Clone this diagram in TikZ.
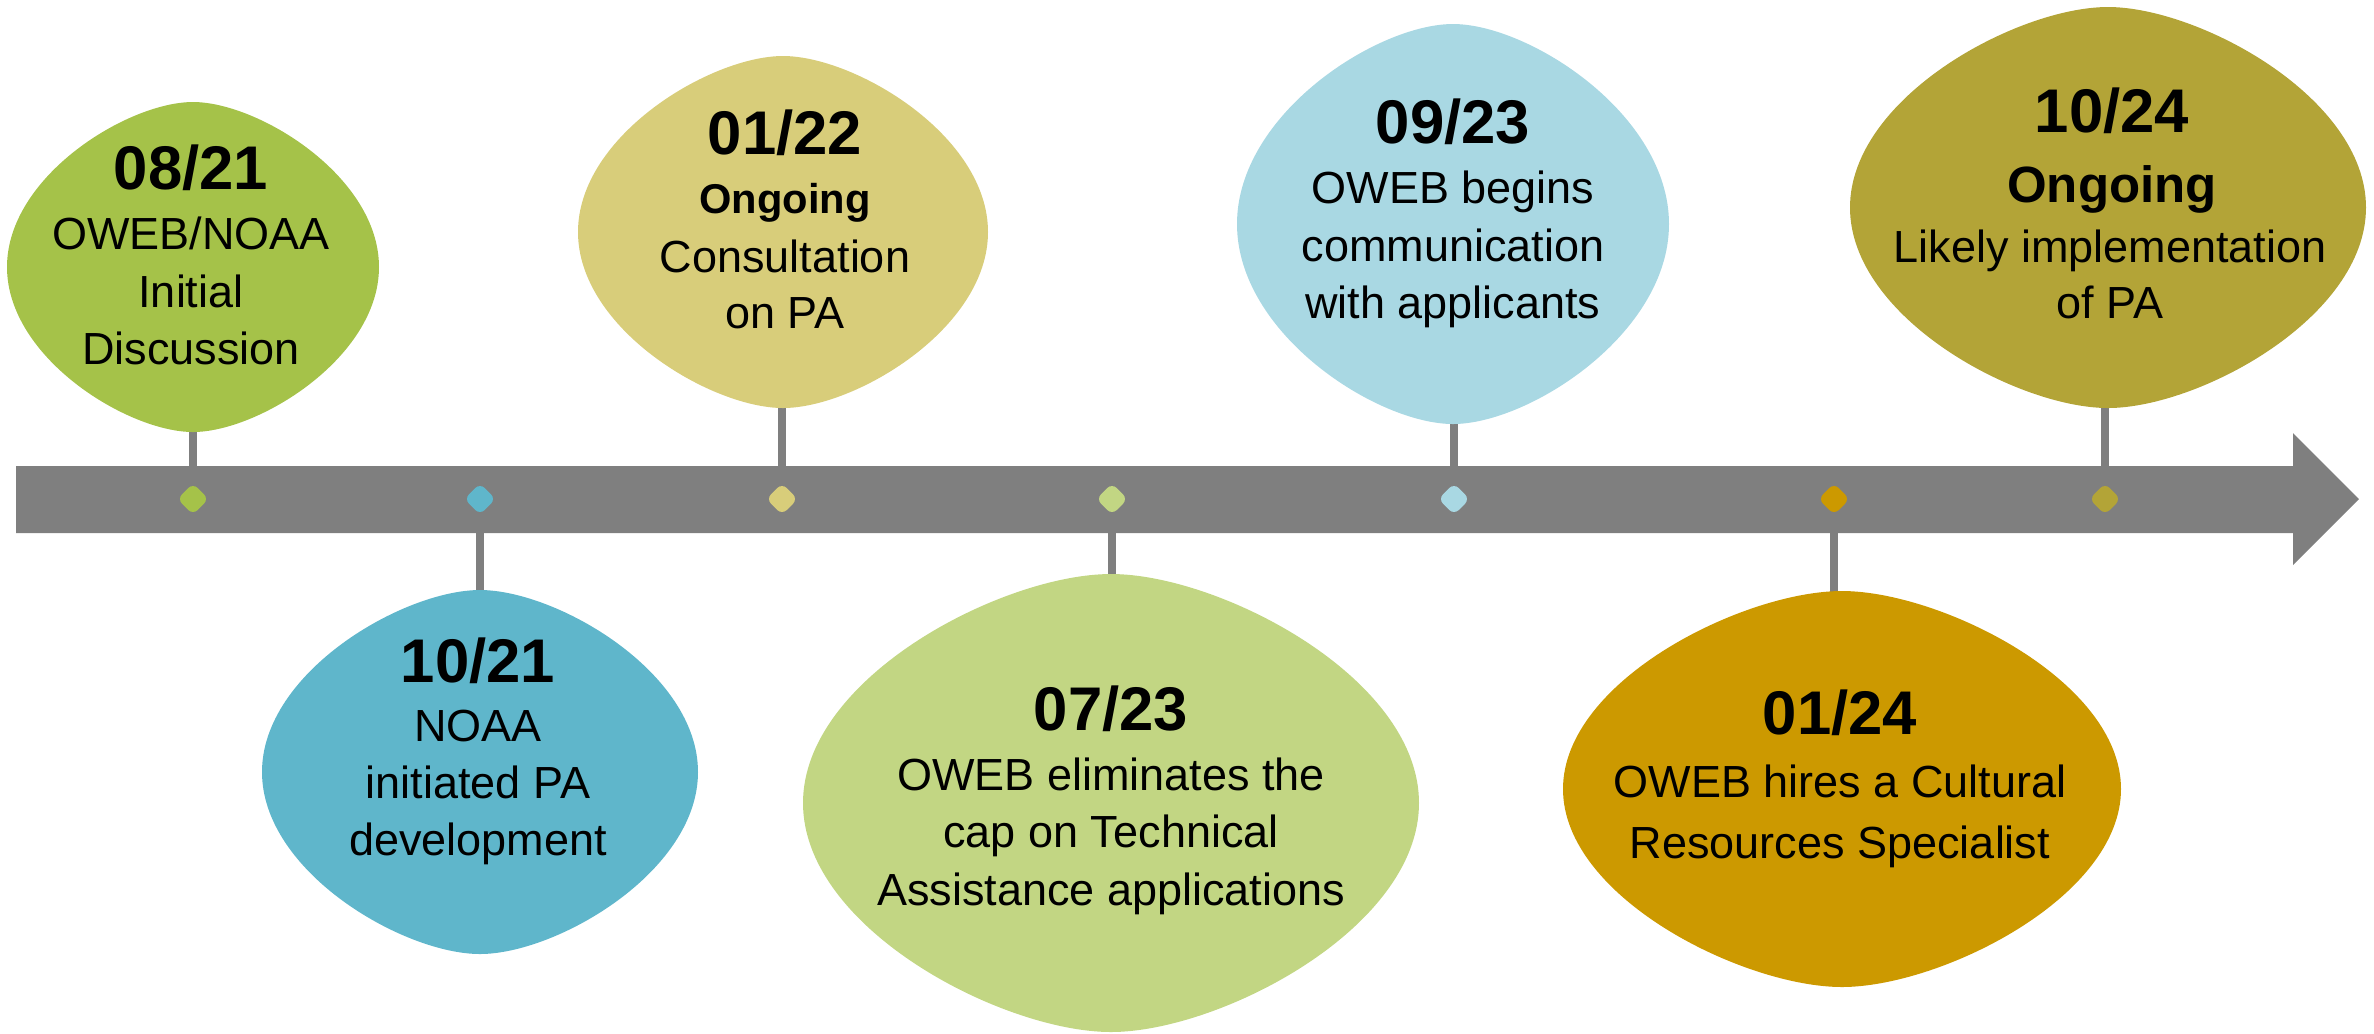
\documentclass[tikz,border=0pt]{standalone}
\usepackage{fontspec}
\usetikzlibrary{shapes.geometric}
\setmainfont{Liberation Sans}
\definecolor{cA}{HTML}{A5C249}
\definecolor{cB}{HTML}{5FB6CB}
\definecolor{cC}{HTML}{D8CD7A}
\definecolor{cD}{HTML}{C2D683}
\definecolor{cE}{HTML}{A9D8E3}
\definecolor{cF}{HTML}{CC9900}
\definecolor{cG}{HTML}{B3A437}
\definecolor{barcol}{HTML}{7F7F7F}
% blob: cx, cy, rx, ry, colour
\newcommand\evblob[5]{%
  \fill[#5] ({#1+#3},{#2})
    .. controls ({#1+#3},{#2-0.55*#4}) and ({#1+0.35*#3},{#2-#4}) .. ({#1},{#2-#4})
    .. controls ({#1-0.35*#3},{#2-#4}) and ({#1-#3},{#2-0.55*#4}) .. ({#1-#3},{#2})
    .. controls ({#1-#3},{#2+0.55*#4}) and ({#1-0.35*#3},{#2+#4}) .. ({#1},{#2+#4})
    .. controls ({#1+0.35*#3},{#2+#4}) and ({#1+#3},{#2+0.55*#4}) .. cycle;}
\tikzset{
  datetxt/.style={font=\fontsize{18.5}{20}\selectfont\bfseries, anchor=base, inner sep=0pt},
  ongo/.style={font=\fontsize{12.5}{14}\selectfont\bfseries, anchor=base, inner sep=0pt},
  ongobig/.style={font=\fontsize{15.3}{17}\selectfont\bfseries, anchor=base, inner sep=0pt},
  bodytxt/.style={font=\fontsize{13.5}{15}\selectfont, anchor=base, inner sep=0pt},
  stem/.style={draw=barcol, line width=2.4pt},
  marker/.style={fill=#1, diamond, minimum width=9.6pt, minimum height=9.6pt, inner sep=0pt, rounded corners=2pt}
}
\begin{document}
\begin{tikzpicture}[x=0.3pt,y=-0.3pt]
\useasboundingbox (0,0) rectangle (2374,1033);
% marker positions on the bar
\coordinate (d1) at (193,499);
\coordinate (d2) at (480,499);
\coordinate (d3) at (782,499);
\coordinate (d4) at (1112,499);
\coordinate (d5) at (1454,499);
\coordinate (d6) at (1834,499);
\coordinate (d7) at (2105,499);
% blob anchors
\coordinate (b1) at (193,267);
\coordinate (b2) at (480,772);
\coordinate (b3) at (782,232);
\coordinate (b4) at (1112,803);
\coordinate (b5) at (1454,224);
\coordinate (b6) at (1834,789);
\coordinate (b7) at (2105,207);
% stems
\foreach \i in {1,...,7} {\draw[stem] (d\i) -- (b\i);}
% timeline arrow
\fill[barcol] (16,466) -- (2293,466) -- (2293,433) -- (2359,499) -- (2293,565) -- (2293,533) -- (16,533) -- cycle;
% blobs
\evblob{193}{267}{186}{165}{cA}
\evblob{480}{772}{218}{182}{cB}
\evblob{783}{232}{205}{176}{cC}
\evblob{1111}{803}{308}{229}{cD}
\evblob{1453}{224}{216}{200}{cE}
\evblob{1842}{789}{279}{198}{cF}
\evblob{2108}{207.5}{258}{200.5}{cG}
% markers
\node[marker=cA] (m1) at (d1) {};
\node[marker=cB] (m2) at (d2) {};
\node[marker=cC] (m3) at (d3) {};
\node[marker=cD] (m4) at (d4) {};
\node[marker=cE] (m5) at (d5) {};
\node[marker=cF] (m6) at (d6) {};
\node[marker=cG] (m7) at (d7) {};
% texts 08/21
\node[datetxt] (t1a) at (191,189) {08/21};
\node[bodytxt] (t1b) at (191,249) {OWEB/NOAA};
\node[bodytxt] (t1c) at (191,307) {Initial};
\node[bodytxt] (t1d) at (191,364) {Discussion};
% 10/21
\node[datetxt] (t2a) at (478,682) {10/21};
\node[bodytxt] (t2b) at (478,741) {NOAA};
\node[bodytxt] (t2c) at (478,798) {initiated PA};
\node[bodytxt] (t2d) at (478,855) {development};
% 01/22
\node[datetxt] (t3a) at (785,154) {01/22};
\node[ongo] (t3b) at (785,213) {Ongoing};
\node[bodytxt] (t3c) at (785,272) {Consultation};
\node[bodytxt] (t3d) at (785,328) {on PA};
% 07/23
\node[datetxt] (t4a) at (1111,730) {07/23};
\node[bodytxt] (t4b) at (1111,790) {OWEB eliminates the};
\node[bodytxt] (t4c) at (1111,847) {cap on Technical};
\node[bodytxt] (t4d) at (1111,905) {Assistance applications};
% 09/23
\node[datetxt] (t5a) at (1453,143) {09/23};
\node[bodytxt] (t5b) at (1453,203) {OWEB begins};
\node[bodytxt] (t5c) at (1453,261) {communication};
\node[bodytxt] (t5d) at (1453,318) {with applicants};
% 01/24
\node[datetxt] (t6a) at (1840,734) {01/24};
\node[bodytxt] (t6b) at (1840,797) {OWEB hires a Cultural};
\node[bodytxt] (t6c) at (1840,858) {Resources Specialist};
% 10/24
\node[datetxt] (t7a) at (2112,132) {10/24};
\node[ongobig] (t7b) at (2112,202) {Ongoing};
\node[bodytxt] (t7c) at (2110,262) {Likely implementation};
\node[bodytxt] (t7d) at (2110,318) {of PA};
\end{tikzpicture}
\end{document}
